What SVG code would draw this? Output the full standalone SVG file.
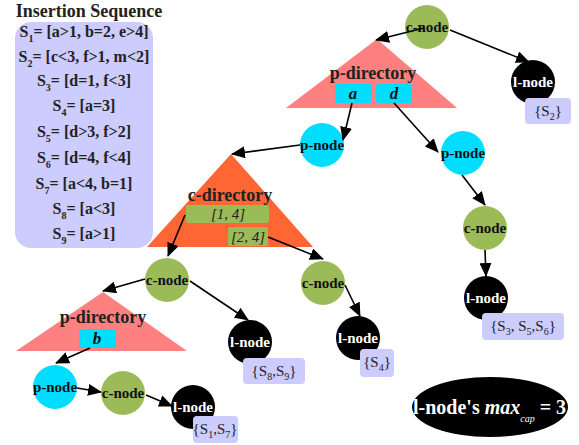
<svg xmlns="http://www.w3.org/2000/svg" width="579" height="445" viewBox="0 0 579 445">
<style>
text{font-family:"Liberation Serif","Times New Roman",serif;font-weight:bold;}
.seq{font-size:16px;fill:#222;text-anchor:middle;}
.sub{font-size:10px;}
.cn{fill:#9bbb59;}
.pn{fill:#00ddff;}
.ln{fill:#000;}
.nt{font-size:15px;fill:#111;text-anchor:middle;}
.lt{font-size:15px;fill:#fff;text-anchor:middle;}
.lbl{fill:#ccccff;}
.lbt{font-size:15px;fill:#222;text-anchor:middle;font-weight:normal;}
.dir{font-size:18px;fill:#222;text-anchor:middle;}
.key{fill:#00ddff;}
.kt{font-size:17px;fill:#111;text-anchor:middle;font-style:italic;}
.gk{fill:#9bbb59;}
.gt{font-size:15px;fill:#222;text-anchor:middle;font-style:italic;font-weight:normal;}
.edge{stroke:#000;stroke-width:1.6;fill:none;marker-end:url(#ah);}
</style>
<defs>
<marker id="ah" markerUnits="userSpaceOnUse" markerWidth="14" markerHeight="12" refX="13" refY="6" orient="auto">
<path d="M0,0 L14,6 L0,12 z" fill="#000"/>
</marker>
</defs>
<rect width="579" height="445" fill="#fff"/>

<g id="insertion-sequence">
<text x="89" y="17" style="font-size:18px;fill:#222;text-anchor:middle">Insertion Sequence</text>
<rect x="15" y="22" width="138" height="226" rx="16" fill="#ccccff"/>
<text class="seq" x="84" y="37">S<tspan class="sub" dy="5">1</tspan><tspan dy="-5">= [a&gt;1, b=2, e&gt;4]</tspan></text>
<text class="seq" x="84" y="62">S<tspan class="sub" dy="5">2</tspan><tspan dy="-5">= [c&lt;3, f&gt;1, m&lt;2]</tspan></text>
<text class="seq" x="84" y="86">S<tspan class="sub" dy="5">3</tspan><tspan dy="-5">= [d=1, f&lt;3]</tspan></text>
<text class="seq" x="84" y="111">S<tspan class="sub" dy="5">4</tspan><tspan dy="-5">= [a=3]</tspan></text>
<text class="seq" x="84" y="137">S<tspan class="sub" dy="5">5</tspan><tspan dy="-5">= [d&gt;3, f&gt;2]</tspan></text>
<text class="seq" x="84" y="163">S<tspan class="sub" dy="5">6</tspan><tspan dy="-5">= [d=4, f&lt;4]</tspan></text>
<text class="seq" x="84" y="189">S<tspan class="sub" dy="5">7</tspan><tspan dy="-5">= [a&lt;4, b=1]</tspan></text>
<text class="seq" x="84" y="214">S<tspan class="sub" dy="5">8</tspan><tspan dy="-5">= [a&lt;3]</tspan></text>
<text class="seq" x="84" y="239">S<tspan class="sub" dy="5">9</tspan><tspan dy="-5">= [a&gt;1]</tspan></text>
</g>

<g id="p-directory-top">
<polygon points="377,39 286,108 457,108" fill="#ff8080"/>
<text class="dir" x="373" y="79">p-directory</text>
<rect class="key" x="335" y="84" width="37" height="19" rx="2"/>
<text class="kt" x="353" y="99">a</text>
<rect class="key" x="376" y="84" width="36" height="19" rx="2"/>
<text class="kt" x="394" y="99">d</text>
</g>

<g id="c-directory">
<polygon points="231,154 147,247 313,247" fill="#ff6633"/>
<text class="dir" x="230" y="201">c-directory</text>
<rect class="gk" x="186" y="205" width="83" height="18" rx="2"/>
<text class="gt" x="228" y="219">[1, 4]</text>
<rect class="gk" x="228" y="227" width="40" height="19" rx="2"/>
<text class="gt" x="248" y="242">[2, 4]</text>
</g>

<g id="p-directory-bottom">
<polygon points="103,292 16,351 187,351" fill="#ff8080"/>
<text class="dir" x="103" y="323">p-directory</text>
<rect class="key" x="79" y="329" width="37" height="19" rx="2"/>
<text class="kt" x="97" y="344">b</text>
</g>

<g id="cnode-root"><circle class="cn" cx="427" cy="27" r="22"/><text class="nt" x="427" y="32">c-node</text></g>
<g id="lnode-s2"><circle class="ln" cx="533" cy="82" r="22"/><text class="lt" x="533" y="87">l-node</text>
<rect class="lbl" x="525" y="98" width="46" height="26" rx="4"/><text class="lbt" x="548" y="116">{S<tspan class="sub" dy="4">2</tspan><tspan dy="-4">}</tspan></text></g>

<g id="pnode-a"><circle class="pn" cx="322" cy="145" r="22"/><text class="nt" x="322" y="150">p-node</text></g>
<g id="pnode-d"><circle class="pn" cx="463" cy="153" r="22"/><text class="nt" x="463" y="158">p-node</text></g>
<g id="cnode-d"><circle class="cn" cx="485" cy="228" r="22"/><text class="nt" x="485" y="233">c-node</text></g>
<g id="lnode-s356"><circle class="ln" cx="486" cy="298" r="22"/><text class="lt" x="486" y="303">l-node</text>
<rect class="lbl" x="482" y="313" width="82" height="27" rx="4"/><text class="lbt" x="523" y="331">{S<tspan class="sub" dy="4">3</tspan><tspan dy="-4">, S</tspan><tspan class="sub" dy="4">5</tspan><tspan dy="-4">,S</tspan><tspan class="sub" dy="4">6</tspan><tspan dy="-4">}</tspan></text></g>

<g id="cnode-24"><circle class="cn" cx="323" cy="283" r="22"/><text class="nt" x="323" y="288">c-node</text></g>
<g id="lnode-s4"><circle class="ln" cx="358" cy="338" r="22"/><text class="lt" x="358" y="343">l-node</text>
<rect class="lbl" x="360" y="349" width="34" height="28" rx="4"/><text class="lbt" x="377" y="367">{S<tspan class="sub" dy="4">4</tspan><tspan dy="-4">}</tspan></text></g>

<g id="cnode-14"><circle class="cn" cx="167" cy="280" r="22"/><text class="nt" x="167" y="285">c-node</text></g>
<g id="lnode-s89"><circle class="ln" cx="250" cy="342" r="22"/><text class="lt" x="250" y="347">l-node</text>
<rect class="lbl" x="243" y="358" width="62" height="26" rx="4"/><text class="lbt" x="274" y="376">{S<tspan class="sub" dy="4">8</tspan><tspan dy="-4">,S</tspan><tspan class="sub" dy="4">9</tspan><tspan dy="-4">}</tspan></text></g>

<g id="pnode-b"><circle class="pn" cx="55" cy="387" r="22"/><text class="nt" x="55" y="392">p-node</text></g>
<g id="cnode-b"><circle class="cn" cx="123" cy="393" r="22"/><text class="nt" x="123" y="398">c-node</text></g>
<g id="lnode-s17"><circle class="ln" cx="193" cy="407" r="22"/><text class="lt" x="193" y="412">l-node</text>
<rect class="lbl" x="193" y="416" width="45" height="27" rx="4"/><text class="lbt" x="215" y="434">{S<tspan class="sub" dy="4">1</tspan><tspan dy="-4">,S</tspan><tspan class="sub" dy="4">7</tspan><tspan dy="-4">}</tspan></text></g>

<g id="legend">
<ellipse cx="490" cy="407" rx="78" ry="30" fill="#000"/>
<text x="413" y="414" style="font-size:20px;fill:#fff">l-node's <tspan style="font-style:italic">max</tspan><tspan style="font-size:10px;font-style:italic;font-weight:normal" dy="8">cap</tspan><tspan dy="-8"> = 3</tspan></text>
</g>

<g id="connectors">
<line class="edge" x1="424" y1="28" x2="376" y2="40"/>
<line class="edge" x1="450" y1="30" x2="529" y2="62"/>
<line class="edge" x1="352" y1="103" x2="343" y2="140"/>
<line class="edge" x1="394" y1="103" x2="438" y2="152"/>
<line class="edge" x1="300" y1="145" x2="232" y2="154"/>
<line class="edge" x1="185" y1="215" x2="168" y2="256"/>
<line class="edge" x1="268" y1="237" x2="323" y2="259"/>
<line class="edge" x1="345" y1="285" x2="360" y2="316"/>
<line class="edge" x1="462" y1="175" x2="485" y2="205"/>
<line class="edge" x1="485" y1="250" x2="486" y2="276"/>
<line class="edge" x1="145" y1="279" x2="103" y2="291"/>
<line class="edge" x1="190" y1="281" x2="248" y2="320"/>
<line class="edge" x1="90" y1="348" x2="56" y2="363"/>
<line class="edge" x1="77" y1="388" x2="101" y2="392"/>
<line class="edge" x1="146" y1="395" x2="172" y2="406"/>
</g>
</svg>
